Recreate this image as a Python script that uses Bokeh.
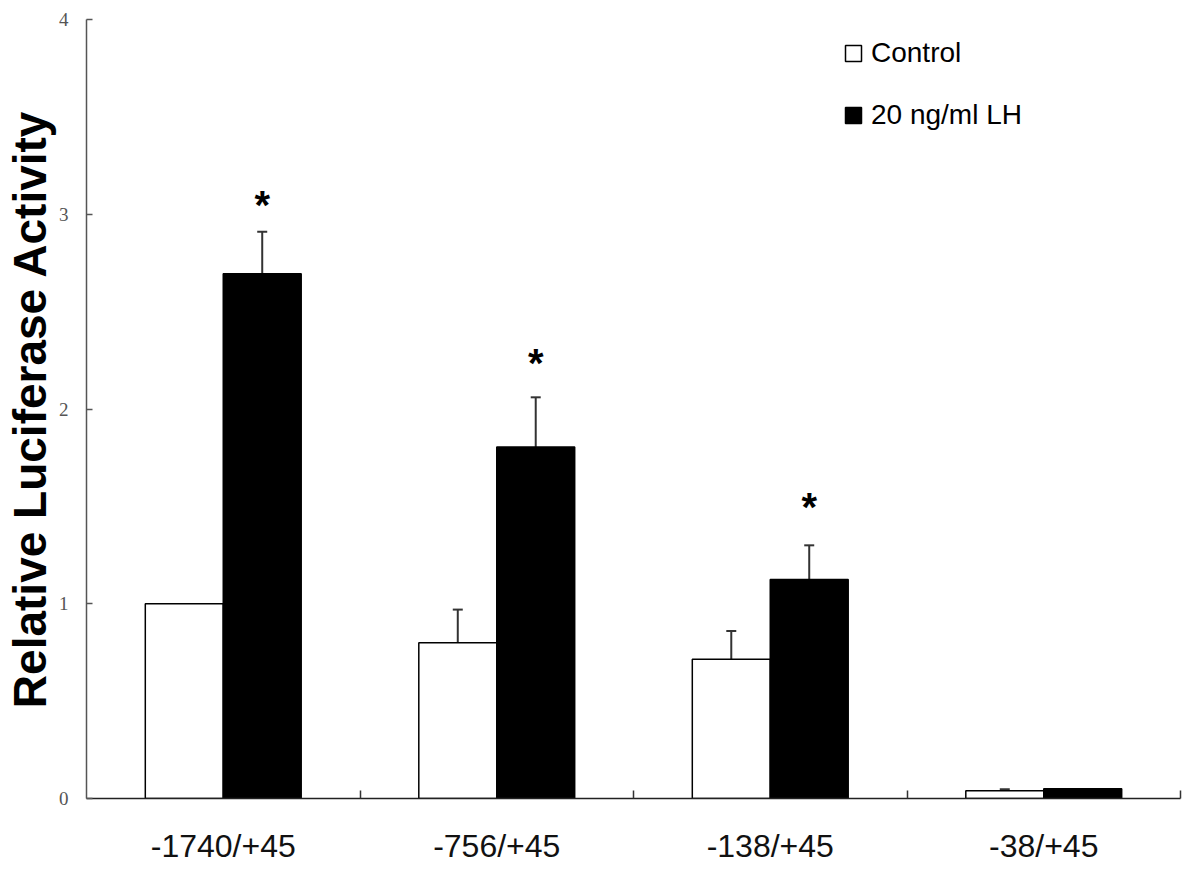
import numpy as np
from bokeh.plotting import figure
from bokeh.models import (ColumnDataSource, Range1d, LinearAxis, FixedTicker,
                          Whisker, TeeHead, Legend, LegendItem)
from bokeh.core.properties import value
from bokeh.embed import file_html
from bokeh.resources import INLINE

# ---------------- data ----------------
categories = ["-1740/+45", "-756/+45", "-138/+45", "-38/+45"]
control = [1.00, 0.80, 0.715, 0.04]
control_err = [0.0, 0.17, 0.145, 0.008]
lh = [2.695, 1.805, 1.125, 0.05]
lh_err = [0.215, 0.255, 0.175, 0.0]
stars = ["*", "*", "*", ""]
star_y = [3.075, 2.26, 1.52, 0.0]
y_ticks = [0, 1, 2, 3, 4]

# ---------------- layout helpers ----------------
n = len(categories)
centers = np.arange(n) + 0.5
bar_w = 0.285
dodge = 0.1425

p = figure(width=1184, height=866,
           x_range=Range1d(0, n), y_range=Range1d(0, 4),
           output_backend="svg", toolbar_location=None,
           x_axis_location=None, y_axis_location=None,
           min_border_left=76, min_border_right=4,
           min_border_top=19, min_border_bottom=60)
p.outline_line_color = None
p.grid.visible = False
p.background_fill_color = "white"
p.border_fill_color = "white"

# y axis
yaxis = LinearAxis(ticker=FixedTicker(ticks=y_ticks, minor_ticks=[]))
yaxis.axis_label = "Relative Luciferase Activity"
yaxis.axis_label_text_font = "Liberation Sans"
yaxis.axis_label_text_font_style = "bold"
yaxis.axis_label_text_font_size = "46px"
yaxis.axis_label_text_color = "black"
yaxis.axis_label_standoff = 0
yaxis.major_tick_in = 6
yaxis.major_tick_out = 0
yaxis.major_tick_line_color = "#555555"
yaxis.major_tick_line_width = 1.5
yaxis.minor_tick_line_color = None
yaxis.axis_line_color = "#555555"
yaxis.axis_line_width = 1.5
yaxis.major_label_standoff = 18
yaxis.major_label_text_font = "Liberation Serif"
yaxis.major_label_text_font_size = "19px"
yaxis.major_label_text_color = "#555555"
p.add_layout(yaxis, "left")

# x axis: labels at category centres, small ticks at category boundaries
xaxis = LinearAxis(ticker=FixedTicker(ticks=[float(c) for c in centers],
                                      minor_ticks=[float(i) for i in range(1, n + 1)]))
xaxis.major_label_overrides = {float(c): cat for c, cat in zip(centers, categories)}
xaxis.major_tick_line_color = None
xaxis.minor_tick_in = 8
xaxis.minor_tick_out = 0
xaxis.minor_tick_line_color = "#333333"
xaxis.minor_tick_line_width = 1.5
xaxis.axis_line_color = "#222222"
xaxis.axis_line_width = 1.5
xaxis.major_label_standoff = 23
xaxis.major_label_text_font = "Liberation Sans"
xaxis.major_label_text_font_size = "32px"
xaxis.major_label_text_color = "#111111"
p.add_layout(xaxis, "below")

# bars
src = ColumnDataSource(dict(x_c=centers - dodge, x_l=centers + dodge,
                            control=control, lh=lh))
r1 = p.vbar(x="x_c", top="control", width=bar_w, source=src,
            fill_color="white", line_color="black", line_width=1.5)
r2 = p.vbar(x="x_l", top="lh", width=bar_w, source=src,
            fill_color="black", line_color="black", line_width=1.5)

# error bars (upper only)
def whisker_source(xs, vals, errs):
    d = dict(x=[], lower=[], upper=[])
    for x, v, e in zip(xs, vals, errs):
        if e > 0:
            d["x"].append(float(x))
            d["lower"].append(v)
            d["upper"].append(v + e)
    return ColumnDataSource(d)

for xs, vals, errs in [(centers - dodge, control, control_err),
                       (centers + dodge, lh, lh_err)]:
    w = Whisker(source=whisker_source(xs, vals, errs), base="x",
                upper="upper", lower="lower", dimension="height",
                upper_head=TeeHead(size=10, line_color="#333333", line_width=2),
                lower_head=None, line_color="#333333", line_width=2)
    p.add_layout(w)

# significance stars
star_src = ColumnDataSource(dict(x=centers + dodge, y=star_y, t=stars))
p.text(x="x", y="y", text="t", source=star_src,
       text_font=value("Liberation Sans"), text_font_style="bold",
       text_font_size="40px", text_align="center", text_baseline="middle",
       y_offset=5, text_color="black")

# legend
legend = Legend(items=[LegendItem(label="Control", renderers=[r1]),
                       LegendItem(label="20 ng/ml LH", renderers=[r2])],
                location=(757, 667), padding=0, margin=0, spacing=30,
                glyph_width=20, glyph_height=20, label_standoff=8,
                label_text_font="Liberation Sans", label_text_font_size="28px",
                label_text_color="black",
                border_line_color=None, background_fill_alpha=0)
p.add_layout(legend)

open("out.html", "w").write(file_html(p, INLINE))
